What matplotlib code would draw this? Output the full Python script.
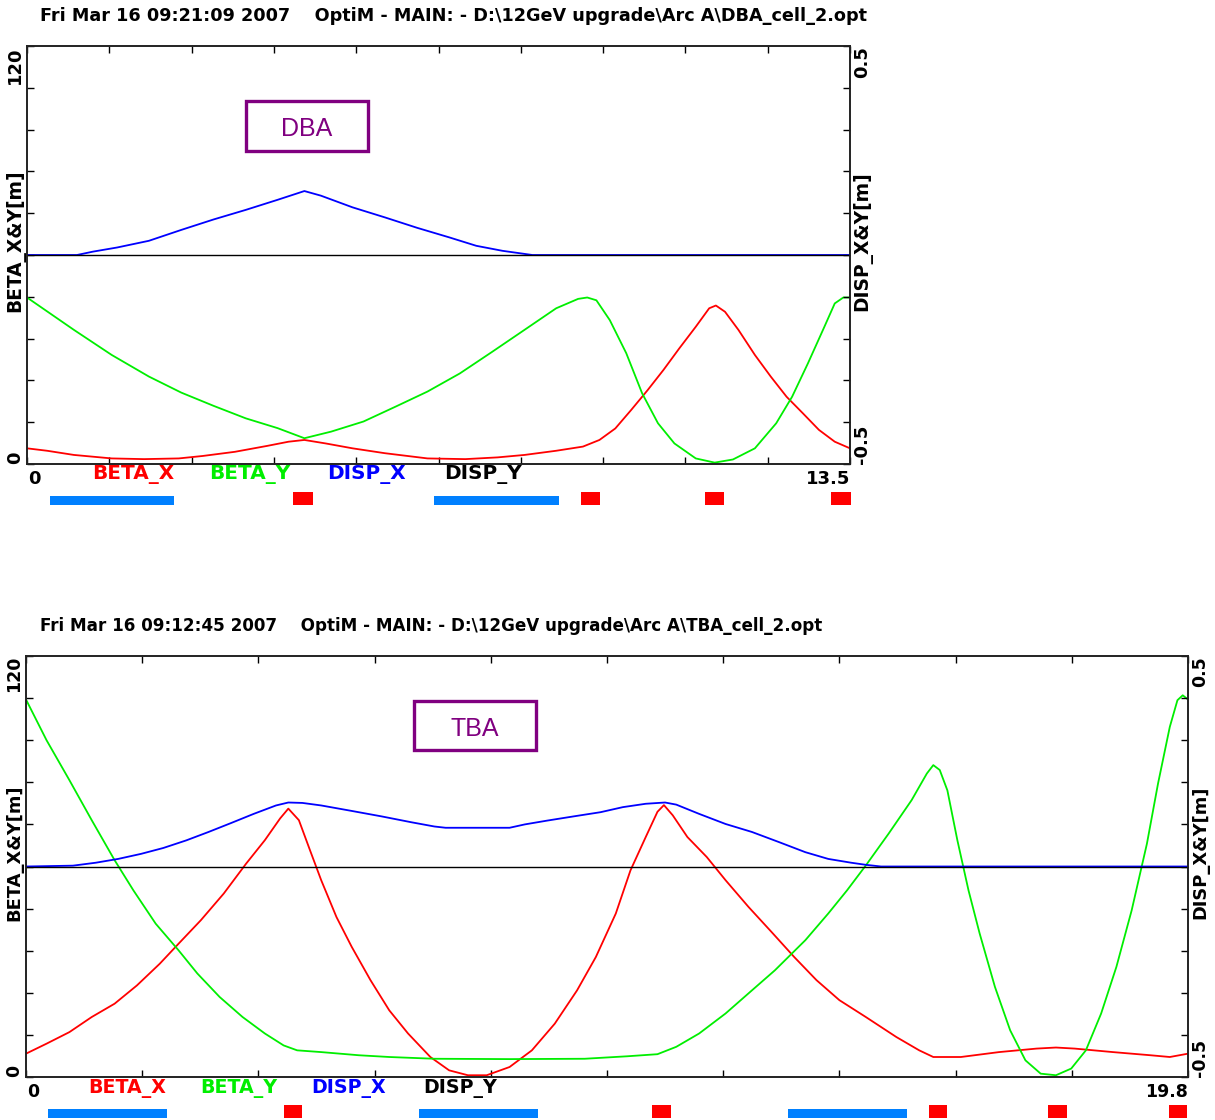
import numpy as np
import matplotlib
matplotlib.use("Agg")
from matplotlib import pyplot as plt
from matplotlib.patches import Rectangle

# Canvas in pixels (saved at dpi=100)
FIG_W, FIG_H = 1215, 1120

# ---------------- DBA cell (top panel) ----------------
dba_header = "Fri Mar 16 09:21:09 2007    OptiM - MAIN: - D:\\12GeV upgrade\\Arc A\\DBA_cell_2.opt"
dba_name = "DBA"
dba_length = 13.5

dba_betax_s = [0, 0.33, 0.77, 1.39, 1.92, 2.49, 2.88, 3.41, 3.94, 4.29, 4.55, 4.90, 5.34, 5.87,
               6.57, 7.19, 7.72, 8.16, 8.68, 9.12, 9.39, 9.65, 9.91, 10.18, 10.44, 10.70, 10.97,
               11.19, 11.30, 11.45, 11.67, 11.94, 12.20, 12.46, 12.73, 12.99, 13.25, 13.5]
dba_betax = [4.5, 3.8, 2.6, 1.6, 1.4, 1.6, 2.3, 3.5, 5.2, 6.4, 6.9, 5.9, 4.5, 3.1,
             1.6, 1.4, 1.9, 2.6, 3.8, 5.0, 6.9, 10.2, 15.5, 21.2, 27.0, 33.2, 39.4,
             44.7, 45.5, 43.7, 38.5, 31.3, 25.1, 19.3, 14.5, 9.8, 6.4, 4.5]

dba_betay_s = [0, 0.77, 1.39, 2.00, 2.53, 3.06, 3.59, 4.11, 4.55, 4.99, 5.52, 6.05, 6.57, 7.10,
               7.63, 8.16, 8.68, 9.04, 9.19, 9.34, 9.56, 9.83, 10.09, 10.35, 10.62, 10.97, 11.28,
               11.58, 11.94, 12.29, 12.55, 12.81, 13.08, 13.25, 13.39, 13.5]
dba_betay = [47.8, 38.5, 31.3, 25.1, 20.5, 16.7, 13.1, 10.3, 7.4, 9.3, 12.2, 16.5, 20.8, 26.0,
             32.2, 38.5, 44.7, 47.4, 47.8, 47.0, 41.3, 31.8, 20.3, 11.7, 5.9, 1.6, 0.4,
             1.3, 4.5, 11.7, 19.3, 28.9, 39.4, 46.1, 47.8, 47.8]

dba_dispx_s = [0, 0.82, 1.08, 1.48, 2.00, 2.53, 3.06, 3.59, 4.11, 4.55, 4.82, 5.34, 5.87, 6.40,
               6.93, 7.37, 7.80, 8.29, 13.5]
dba_dispx = [0, 0, 0.008, 0.018, 0.034, 0.060, 0.085, 0.108, 0.132, 0.153, 0.142, 0.114, 0.090,
             0.065, 0.042, 0.022, 0.010, 0.0, 0.0]

dba_dispy_s = [0, 13.5]
dba_dispy = [0.0, 0.0]

# lattice elements: dipoles (blue bars) and quadrupoles (red squares)
dba_dipole_s = [0.37, 6.68]
dba_dipole_len = 2.04
dba_quad_s = [4.37, 9.08, 11.12, 13.19]
dba_quad_len = 0.32

# ---------------- TBA cell (bottom panel) ----------------
tba_header = "Fri Mar 16 09:12:45 2007    OptiM - MAIN: - D:\\12GeV upgrade\\Arc A\\TBA_cell_2.opt"
tba_name = "TBA"
tba_length = 19.8

tba_betax_s = [0, 0.35, 0.74, 1.12, 1.51, 1.89, 2.28, 2.60, 2.98, 3.37, 3.75, 4.07, 4.33, 4.47,
               4.65, 4.84, 5.03, 5.29, 5.55, 5.87, 6.19, 6.51, 6.89, 7.21, 7.53, 7.85, 8.24,
               8.62, 9.01, 9.39, 9.71, 10.05, 10.30, 10.56, 10.76, 10.87, 11.02, 11.27, 11.60,
               11.92, 12.31, 12.70, 13.09, 13.47, 13.86, 14.31, 14.83, 15.22, 15.46, 15.93,
               16.58, 17.22, 17.55, 17.87, 18.52, 19.16, 19.49, 19.80]
tba_betax = [6.65, 9.5, 12.8, 17.1, 20.9, 26.1, 32.3, 38.0, 44.7, 52.3, 60.8, 67.5, 73.7, 76.5,
             73.2, 64.6, 56.1, 45.6, 37.1, 27.6, 19.0, 12.4, 5.7, 1.9, 0.5, 0.5, 2.85,
             7.6, 15.2, 24.7, 34.2, 46.6, 58.9, 68.4, 75.6, 77.5, 74.6, 68.4, 62.7,
             56.1, 48.5, 41.4, 34.2, 27.6, 21.9, 17.1, 11.4, 7.6, 5.7, 5.7,
             7.1, 8.1, 8.4, 8.1, 7.1, 6.2, 5.7, 6.65]

tba_betay_s = [0, 0.35, 0.74, 1.12, 1.51, 1.83, 2.21, 2.60, 2.92, 3.30, 3.69, 4.07, 4.39, 4.62,
               5.03, 5.67, 6.19, 6.96, 8.24, 9.52, 10.24, 10.76, 11.08, 11.47, 11.92, 12.37,
               12.76, 13.28, 13.67, 13.99, 14.31, 14.70, 15.09, 15.35, 15.46, 15.57, 15.70,
               15.87, 16.06, 16.25, 16.51, 16.77, 17.03, 17.29, 17.55, 17.81, 18.06, 18.32,
               18.58, 18.84, 19.10, 19.29, 19.49, 19.62, 19.71, 19.80]
tba_betay = [107.6, 96.0, 84.6, 73.2, 61.8, 53.2, 43.7, 36.1, 29.5, 22.8, 17.1, 12.4, 9.0, 7.6,
             7.1, 6.2, 5.7, 5.2, 5.1, 5.2, 5.9, 6.5, 8.6, 12.4, 18.1, 24.7,
             30.4, 39.0, 46.6, 53.2, 60.3, 69.4, 78.9, 86.5, 88.9, 87.5, 81.7,
             67.5, 53.2, 40.9, 25.7, 13.3, 4.75, 0.95, 0.5, 2.4, 7.6, 18.1,
             31.4, 47.5, 66.5, 83.7, 99.8, 107.4, 108.8, 107.6]

tba_dispx_s = [0, 0.80, 1.19, 1.57, 1.96, 2.34, 2.73, 3.11, 3.49, 3.88, 4.26, 4.47, 4.71, 5.03,
               5.55, 6.06, 6.57, 6.96, 7.15, 8.24, 8.50, 8.88, 9.33, 9.79, 10.17, 10.56, 10.89,
               11.08, 11.47, 11.92, 12.37, 12.83, 13.28, 13.67, 14.06, 14.31, 14.57, 19.80]
tba_dispx = [0, 0.002, 0.009, 0.018, 0.030, 0.044, 0.062, 0.082, 0.103, 0.125, 0.145, 0.152,
             0.151, 0.145, 0.132, 0.119, 0.105, 0.095, 0.092, 0.092, 0.100, 0.109, 0.119,
             0.129, 0.141, 0.149, 0.152, 0.147, 0.125, 0.101, 0.082, 0.058, 0.034, 0.018,
             0.009, 0.004, 0.0, 0.0]

tba_dispy_s = [0, 19.8]
tba_dispy = [0.0, 0.0]

tba_dipole_s = [0.37, 6.69, 12.98]
tba_dipole_len = 2.03
tba_quad_s = [4.39, 10.67, 15.38, 17.42, 19.47]
tba_quad_len = 0.32

# Legend names and their colours (printed under the plot)
legend_names = ["BETA_X", "BETA_Y", "DISP_X", "DISP_Y"]
legend_colors = ["#ff0000", "#00ee00", "#0000ff", "#000000"]

BOLD = dict(fontweight="bold", family=["DejaVu Sans"])

fig = plt.figure(figsize=(FIG_W / 100, FIG_H / 100), dpi=100)


def px_axes(left, top, right, bottom):
    return fig.add_axes([left / FIG_W, 1 - bottom / FIG_H,
                         (right - left) / FIG_W, (bottom - top) / FIG_H])


def draw_cell(frame, length, betax, betay, dispx, dispy, dipoles, quads,
              name, name_box, header, sizes, legend_dx):
    left, top, right, bottom = frame
    header_size, text_size, legend_size, label_size = sizes
    ax = px_axes(left, top, right, bottom)
    ax2 = ax.twinx()
    h_px = bottom - top

    # beta functions on the left scale
    ax.plot(betax[0], betax[1], color=legend_colors[0], lw=1.3)
    ax.plot(betay[0], betay[1], color=legend_colors[1], lw=1.3)
    ax.set_xlim(0, length)
    ax.set_ylim(0, 120)

    # dispersion on the right scale
    ax2.plot(dispx[0], dispx[1], color=legend_colors[2], lw=1.3)
    ax2.plot(dispy[0], dispy[1], color=legend_colors[3], lw=1.0)
    ax2.set_ylim(-0.5, 0.5)

    # ticks: 10 divisions on every side, pointing inward, no numbers
    ax.set_xticks(np.linspace(0, length, 11))
    ax.set_yticks(np.linspace(0, 120, 11))
    ax2.set_yticks(np.linspace(-0.5, 0.5, 11))
    ax.tick_params(direction="in", length=5, width=1, top=True, right=False,
                   labelbottom=False, labelleft=False)
    ax2.tick_params(direction="in", length=5, width=1, labelright=False)
    for a in (ax, ax2):
        for sp in a.spines.values():
            sp.set_linewidth(1.2)
            sp.set_color("#222222")

    # end values of the scales
    lab = dict(textcoords="offset pixels", rotation=90, ha="center", fontsize=text_size, **BOLD)
    ax.annotate("120", xy=(0, 1), xycoords="axes fraction", xytext=(-12, 0), va="top", **lab)
    ax.annotate("0", xy=(0, 0), xycoords="axes fraction", xytext=(-12, 0), va="bottom", **lab)
    ax.annotate("0.5", xy=(1, 1), xycoords="axes fraction", xytext=(12, 0), va="top", **lab)
    ax.annotate("-0.5", xy=(1, 0), xycoords="axes fraction", xytext=(12, 0), va="bottom", **lab)
    ax.annotate("0", xy=(0, 0), xycoords="axes fraction", xytext=(1, -6),
                textcoords="offset pixels", ha="left", va="top", fontsize=text_size, **BOLD)
    ax.annotate(f"{length:g}", xy=(1, 0), xycoords="axes fraction", xytext=(0, -6),
                textcoords="offset pixels", ha="right", va="top", fontsize=text_size, **BOLD)

    # axis titles
    mid = (top + bottom) / 2 - 14
    fig.text((left - 12) / FIG_W, 1 - mid / FIG_H, "BETA_X&Y[m]", rotation=90,
             ha="center", va="center", fontsize=label_size, **BOLD)
    fig.text((right + 12) / FIG_W, 1 - mid / FIG_H, "DISP_X&Y[m]", rotation=90,
             ha="center", va="center", fontsize=label_size, **BOLD)

    # header line
    fig.text(40 / FIG_W, 1 - (top - 30) / FIG_H, header, ha="left", va="center",
             fontsize=header_size, **BOLD)

    # legend names under the axis
    for name_i, col, dx in zip(legend_names, legend_colors, legend_dx):
        fig.text((left + dx) / FIG_W, 1 - (bottom + 11) / FIG_H, name_i, color=col,
                 ha="left", va="center", fontsize=legend_size, **BOLD)

    # magnet layout below the axis
    trans = ax.get_xaxis_transform()
    for s0 in dipoles[0]:
        ax.add_patch(Rectangle((s0, -41 / h_px), dipoles[1], 9.5 / h_px, transform=trans,
                               color="#0080ff", clip_on=False, lw=0))
    for s0 in quads[0]:
        ax.add_patch(Rectangle((s0, -41 / h_px), quads[1], 13 / h_px, transform=trans,
                               color="#ff0000", clip_on=False, lw=0))

    # cell name in a framed box
    x0, y0, x1, y1 = name_box
    ax.add_patch(Rectangle((x0, y0), x1 - x0, y1 - y0, transform=ax.transAxes,
                           fill=False, edgecolor="#800080", lw=2.4, zorder=5))
    ax.text((x0 + x1) / 2, (y0 + y1) / 2 - 0.008, name, transform=ax.transAxes,
            color="#800080", ha="center", va="center", fontsize=18,
            family=["Liberation Sans Narrow", "Liberation Sans", "DejaVu Sans"])
    return ax


draw_cell((27, 46, 850, 464), dba_length,
          (dba_betax_s, dba_betax), (dba_betay_s, dba_betay),
          (dba_dispx_s, dba_dispx), (dba_dispy_s, dba_dispy),
          (dba_dipole_s, dba_dipole_len), (dba_quad_s, dba_quad_len),
          dba_name, (0.266, 0.749, 0.414, 0.868), dba_header,
          (12.7, 13, 14.4, 13.4), [65, 182, 300, 417])

draw_cell((26, 656, 1188, 1077), tba_length,
          (tba_betax_s, tba_betax), (tba_betay_s, tba_betay),
          (tba_dispx_s, tba_dispx), (tba_dispy_s, tba_dispy),
          (tba_dipole_s, tba_dipole_len), (tba_quad_s, tba_quad_len),
          tba_name, (0.334, 0.777, 0.439, 0.893), tba_header,
          (12.1, 12.5, 13.7, 12.9), [62, 174, 285, 397])

fig.savefig("out.png", dpi=100)
